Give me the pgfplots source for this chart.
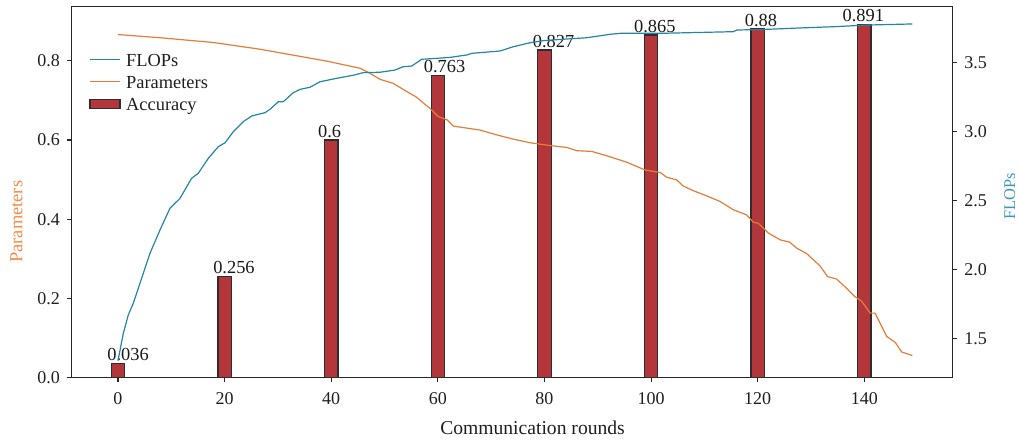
\documentclass[border=0pt]{standalone}
\usepackage{pgfplots}
\usepackage{pgfplotstable}
\pgfplotsset{compat=1.18}
\usepackage{fontspec}
\setmainfont{Liberation Serif}

\definecolor{barred}{RGB}{178,54,58}
\definecolor{baredge}{RGB}{45,45,45}
\definecolor{flopsc}{RGB}{35,134,163}
\definecolor{paramc}{RGB}{226,126,58}
\definecolor{paramlab}{RGB}{243,140,72}
\definecolor{flopslab}{RGB}{60,152,182}
\definecolor{spine}{RGB}{38,38,38}

\pgfplotstableread{
x acc
0 0.036
20 0.256
40 0.6
60 0.763
80 0.827
100 0.865
120 0.88
140 0.891
}\accdata

\pgfplotstableread{
lx acc label
1.88 0.036 0.036
21.76 0.256 0.256
39.7 0.6 0.6
61.25 0.763 0.763
81.7 0.827 0.827
100.7 0.865 0.865
120.6 0.88 0.88
139.8 0.891 0.891
}\labdata

\pgfplotstableread{
x y
0 1.338
1.0 1.536
1.93 1.669
2.87 1.754
4.75 1.971
6.0 2.116
7.88 2.285
9.75 2.442
11.63 2.514
13.8 2.659
15.06 2.696
16.94 2.804
18.8 2.888
20.07 2.917
21.63 2.997
23.5 3.070
25.08 3.111
27.57 3.135
28.5 3.159
30.07 3.214
31.0 3.214
32.88 3.280
34.14 3.304
36.0 3.319
37.89 3.359
41.0 3.384
44.1 3.406
46.0 3.425
49.15 3.428
51.96 3.444
53.5 3.468
55.1 3.473
56.97 3.522
59.8 3.529
62.3 3.536
65.4 3.553
66.35 3.565
71.66 3.582
74.15 3.613
77.3 3.642
79.8 3.657
84.2 3.669
87.9 3.678
92.3 3.703
94.2 3.710
101.7 3.710
115.4 3.722
116.1 3.734
121.7 3.739
128.0 3.749
134.2 3.758
140.4 3.770
149 3.778
}\flopsdata

\pgfplotstableread{
x y
0 0.866
7.88 0.858
17.88 0.846
26.64 0.829
32.88 0.814
39.15 0.799
45.4 0.781
47.3 0.768
49.15 0.753
51.6 0.743
54.2 0.722
56.0 0.708
57.3 0.693
58.5 0.680
60.1 0.659
61.7 0.651
62.9 0.635
65.4 0.630
67.9 0.625
71.0 0.613
74.15 0.602
77.3 0.593
80.4 0.587
84.2 0.581
86.0 0.573
88.9 0.571
91.7 0.560
95.4 0.544
98.9 0.524
101.7 0.518
102.9 0.506
104.8 0.499
106.0 0.484
107.9 0.472
110.4 0.459
112.9 0.445
115.4 0.424
117.9 0.411
119.2 0.392
120.1 0.390
122.0 0.365
124.2 0.348
126.0 0.342
127.3 0.327
129.2 0.313
131.7 0.282
133.1 0.255
134.8 0.249
136.4 0.229
138.2 0.205
139.5 0.193
141.1 0.163
142.0 0.163
144.2 0.104
145.8 0.089
147.0 0.065
149 0.056
}\paramdata

\pgfplotsset{
  mybase/.style={
    scale only axis, width=440.6pt, height=185.5pt,
    at={(0pt,0pt)}, anchor=south west,
    xmin=-8.72, xmax=156.57,
    axis line style={spine, line width=0.6pt},
    every tick/.style={spine, line width=0.6pt},
    tick align=outside, major tick length=2.3pt,
    tick label style={font=\fontsize{9}{10}\selectfont, text=black!88},
    /pgf/number format/assume math mode=true,
  },
  mylineleg/.style={legend image code/.code={\draw[##1] (0pt,0pt) -- (15pt,0pt);}},
  mybarleg/.style={legend image code/.code={\draw[##1] (0pt,-2.3pt) rectangle (15pt,2.3pt);}},
}

\begin{document}
\begin{tikzpicture}
\path[use as bounding box] (-35.75pt,-31.65pt) rectangle (473.75pt,188.85pt);
\begin{axis}[mybase,
  ymin=0, ymax=0.9363,
  xtick={0,20,...,140}, xtick pos=bottom, ytick pos=left,
  ytick={0,0.2,0.4,0.6,0.8},
  yticklabel style={/pgf/number format/.cd, fixed, fixed zerofill, precision=1},
  xticklabel shift=1.8pt,
  xlabel={Communication rounds},
  xlabel style={at={(axis description cs:0.5232,-0.1544)}, anchor=base, font=\fontsize{9.8}{11}\selectfont, text=black!88},
  ylabel={Parameters},
  ylabel style={at={(axis description cs:-0.0626,0.4205)}, anchor=center, font=\fontsize{9.2}{10}\selectfont, text=paramlab},
  legend style={draw=none, fill=none, at={(axis description cs:0.0202,0.8863)}, anchor=north west,
    inner sep=0pt, outer sep=0pt, column sep=2.85pt, row sep=0pt,
    font=\fontsize{9.2}{10}\selectfont,
    nodes={inner sep=0pt, text height=0.9em, text depth=0.2em, text=black!88}},
  legend cell align=left,
]
\addlegendimage{mylineleg, flopsc, line width=0.6pt}
\addlegendentry{FLOPs}
\addlegendimage{mylineleg, paramc, line width=0.6pt}
\addlegendentry{Parameters}
\addlegendimage{mybarleg, fill=barred, draw=baredge, line width=0.6pt}
\addlegendentry{Accuracy}

\addplot[ybar, bar width=2.5, fill=barred, draw=baredge, line width=0.6pt, forget plot]
  table[x=x, y=acc] {\accdata};
\addplot[draw=none, mark=none, forget plot, point meta=explicit symbolic,
  nodes near coords,
  nodes near coords style={anchor=base, yshift=1.4pt, inner sep=0pt, font=\fontsize{9.2}{10}\selectfont, text=black!90}]
  table[x=lx, y=acc, meta=label] {\labdata};
\addplot[paramc, line width=0.6pt, forget plot] table[x=x, y=y] {\paramdata};
\end{axis}

\begin{axis}[mybase,
  ymin=1.2145, ymax=3.903,
  hide x axis,
  axis y line*=right,
  ytick={1.5,2,2.5,3,3.5},
  yticklabel style={/pgf/number format/.cd, fixed, fixed zerofill, precision=1},
  ylabel={FLOPs},
  ylabel style={at={(axis description cs:1.0647,0.49)}, anchor=center, font=\fontsize{8.2}{9}\selectfont, text=flopslab},
]
\addplot[flopsc, line width=0.6pt] table[x=x, y=y] {\flopsdata};
\end{axis}
\end{tikzpicture}
\end{document}
